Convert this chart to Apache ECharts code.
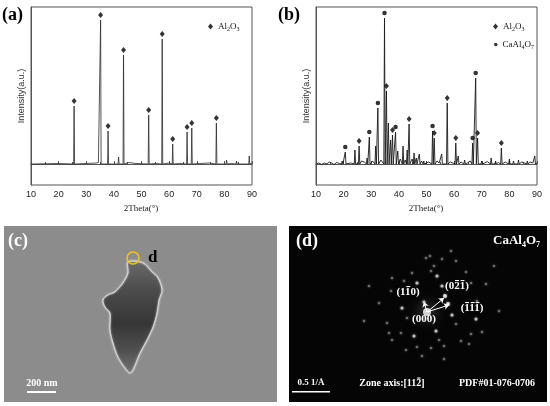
<!DOCTYPE html>
<html>
<head>
<meta charset="utf-8">
<script src="https://cdn.jsdelivr.net/npm/echarts@6/dist/echarts.min.js"></script>
<style>
  html, body { margin: 0; padding: 0; background: #fff; }
  #main { width: 550px; height: 406px; }
</style>
</head>
<body>
<div id="main"></div>
<script>
// XRD (a): peak positions 2theta, heights (a.u.), phase marker ('A' = Al2O3)
var thetaA = [25.6, 35.2, 37.9, 41.7, 43.5, 52.6, 57.5, 61.3, 66.5, 68.2, 77.1, 80.8, 84.4, 86.5, 89.0];
var heightA = [58, 144, 33, 7, 109, 49, 125, 20, 32, 36, 41, 4, 3, 2, 8];
var phaseA = ['A', 'A', 'A', '', 'A', 'A', 'A', 'A', 'A', 'A', 'A', '', '', '', ''];
var bgA = [[10, 0], [20, 0.5], [30, 0.5], [33.5, 1], [34.4, 1.5], [45.5, 1.5], [48, 0.5], [55, 0.5],
           [60, 1], [64, 0.5], [71, 0.5], [74.5, 1], [82.5, 0.5], [90, 1]];

// XRD (b): 'A' = Al2O3, 'C' = CaAl4O7
var thetaB = [14.8, 19.5, 20.6, 24.1, 25.6, 28.5, 29.3, 31.6, 32.4, 34.8, 35.5, 36.2, 37.0, 37.7, 38.8,
              39.6, 41.5, 43.0, 43.7, 45.5, 46.3, 47.4, 49.0, 52.2, 52.8, 55.5, 57.5, 60.6, 61.5, 63.8,
              66.7, 67.8, 68.5, 70.0, 73.4, 75.0, 77.1, 80.0, 81.5, 83.3, 86.5, 89.2];
var heightB = [2, 3, 12, 14, 18, 6, 27, 18, 56, 146, 73, 41, 24, 29, 32,
               13, 18, 14, 40, 11, 6, 10, 3, 33, 26, 10, 61, 21, 8, 4,
               21, 86, 26, 3, 6, 3, 16, 5, 3, 4, 3, 8];
var phaseB = ['', '', 'C', '', 'A', '', 'C', '', 'C', 'C', 'A', '', '', 'A', 'C',
              '', '', '', 'A', '', '', '', '', 'C', 'A', '', 'A', 'A', '', '',
              'C', 'C', 'A', '', '', '', 'A', '', '', '', '', ''];
var bgB = [[10, 0], [11, 1], [12, -0.5], [13, 1], [14, 0], [15.6, 1], [16.5, -0.5], [17.5, 1.5], [18.5, 0.5],
           [21.5, 2], [22.5, 1], [23.2, 2.5], [26.5, 3], [27.5, 2], [30.5, 3], [33.5, 4], [40.5, 5],
           [42.3, 4], [44.8, 5], [48.2, 3], [49.8, 1], [50.8, 2], [51.5, 1.5], [53.8, 3], [54.6, 1],
           [56.3, 2], [58.6, 2], [59.5, 1], [62.5, 2], [64.8, 1], [65.8, 3], [69.3, 2], [71, 1], [72, 2.5],
           [74.2, 1], [76, 1.5], [78.5, 2], [79.2, 1], [82.3, 1.5], [84.5, 2], [85.5, 1], [87.5, 2], [88.5, 1], [90, 1]];

var xTicks = [10, 20, 30, 40, 50, 60, 70, 80, 90];

// TEM (c): particle outline in image pixels
var particle = [[124, 36], [139, 37], [148, 46], [154, 52], [158, 64], [155, 74], [153, 87], [149, 101],
                [143, 114], [136, 127], [129, 144], [126, 147], [121, 142], [114, 131], [109, 117],
                [106, 104], [106, 87], [101, 81], [99, 74], [104, 69], [111, 66], [119, 57], [124, 47]];

// SAED (d): diffraction spots [x, y, brightness] in image pixels
var spots = [[113, 82, 2], [118, 92, 1], [123, 47, 1], [128, 57, 2], [141, 30, 1], [145, 40, 1], [148, 50, 2],
             [153, 60, 2], [156, 70, 3], [159, 78, 3], [163, 89, 2], [167, 98, 1], [162, 25, 1], [167, 35, 1],
             [197, 58, 1], [187, 93, 2], [147, 105, 2], [150, 114, 1], [125, 110, 2], [103, 52, 1], [90, 77, 1],
             [100, 107, 1], [128, 121, 1], [133, 130, 1], [155, 133, 1], [180, 118, 1], [177, 46, 1],
             [182, 57, 1], [188, 75, 1], [155, 120, 1], [142, 122, 1], [112, 107, 1], [103, 114, 1], [98, 97, 1],
             [102, 65, 1], [115, 55, 1], [142, 45, 1], [137, 32, 1], [153, 33, 1], [182, 108, 1], [193, 106, 1],
             [172, 115, 1], [117, 124, 1], [135, 76, 2], [80, 60, 1], [210, 85, 1], [205, 40, 1], [75, 95, 1]];
var center = [138, 86];
var arrowEnds = [[135, 76], [155, 72], [160, 79]];

function buildTrace(th, h, hw, bg) {
    var pts = [];
    for (var i = 0; i < th.length; i++) {
        pts.push([th[i] - hw, 0], [th[i], h[i]], [th[i] + hw, 0]);
    }
    bg.forEach(function (p) {
        var clear = th.every(function (t) { return Math.abs(t - p[0]) > hw + 0.15; });
        if (clear) pts.push(p);
    });
    pts.sort(function (a, b) { return a[0] - b[0]; });
    return pts;
}
function markers(th, h, ph, which) {
    var out = [];
    for (var i = 0; i < th.length; i++) {
        if (ph[i] === which) out.push([th[i], h[i]]);
    }
    return out;
}

// text with overbars on chosen characters (Miller indices)
var measureCtx = document.createElement('canvas').getContext('2d');
function barred(str, bars, cx, cy, font, size) {
    measureCtx.font = font;
    var w = measureCtx.measureText(str).width;
    var x0 = cx - w / 2;
    var els = [{ type: 'text', x: cx, y: cy, z: 10,
        style: { text: str, font: font, fill: '#fff', align: 'center', verticalAlign: 'middle' } }];
    bars.forEach(function (i) {
        var bx = x0 + measureCtx.measureText(str.slice(0, i)).width;
        var bw = measureCtx.measureText(str.charAt(i)).width;
        els.push({ type: 'rect', z: 10, shape: { x: bx + 0.8, y: cy - size * 0.5 - 0.5, width: bw - 1.6, height: 1.1 },
            style: { fill: '#fff' } });
    });
    return els;
}

var serif = 'Liberation Serif';
var sans = 'Liberation Sans';
var subRich = {
    n: { fontFamily: serif, fontSize: 9, color: '#111', lineHeight: 12 },
    s: { fontFamily: serif, fontSize: 6, color: '#111', lineHeight: 6, verticalAlign: 'bottom' }
};
function chem(name) {
    if (name === 'Al2O3') return '{n|Al}{s|2}{n|O}{s|3}';
    return '{n|CaAl}{s|4}{n|O}{s|7}';
}
function legendAt(left, top, name, icon, size) {
    return {
        left: left, top: top, itemWidth: size, itemHeight: size + 1, itemGap: 3,
        data: [{ name: name, icon: icon }],
        formatter: chem, textStyle: { rich: subRich }, selectedMode: false
    };
}

function xrdX(idx) {
    return {
        type: 'value', gridIndex: idx, min: 10, max: 90, interval: 10,
        axisLine: { show: true, lineStyle: { color: '#555', width: 1 } },
        axisTick: { show: true, inside: true, length: 3, lineStyle: { color: '#555' } },
        minorTick: { show: true, splitNumber: 2, length: 2, lineStyle: { color: '#555' } },
        axisLabel: { fontFamily: sans, fontSize: 9, color: '#222', margin: 5,
            formatter: function (v) { return xTicks.indexOf(v) >= 0 ? v : ''; } },
        splitLine: { show: false }
    };
}
function xrdY(idx) {
    return {
        type: 'value', gridIndex: idx, min: -21, max: 157,
        axisLine: { show: true, lineStyle: { color: '#555', width: 1 } },
        axisTick: { show: false }, axisLabel: { show: false }, splitLine: { show: false }
    };
}
function hidden(idx, max, inv) {
    return { type: 'value', gridIndex: idx, min: 0, max: max, inverse: !!inv, show: false };
}

var chart = echarts.init(document.getElementById('main'));

var labelFont = 'bold 11px "Liberation Serif"';
var graphics = [
    { type: 'text', left: 2, top: 6, style: { text: '(a)', font: 'bold 18px "Liberation Serif"', fill: '#000' } },
    { type: 'text', left: 278, top: 6, style: { text: '(b)', font: 'bold 18px "Liberation Serif"', fill: '#000' } },
    { type: 'text', x: 22, y: 96, rotation: Math.PI / 2,
      style: { text: 'Intensity(a.u.)', font: '9px "Liberation Sans"', fill: '#333', align: 'center', verticalAlign: 'middle' } },
    { type: 'text', x: 307, y: 96, rotation: Math.PI / 2,
      style: { text: 'Intensity(a.u.)', font: '9px "Liberation Sans"', fill: '#333', align: 'center', verticalAlign: 'middle' } },
    { type: 'text', x: 141, y: 209,
      style: { text: '2Theta(°)', font: '9px "Liberation Serif"', fill: '#222', align: 'center', verticalAlign: 'middle' } },
    { type: 'text', x: 426, y: 209,
      style: { text: '2Theta(°)', font: '9px "Liberation Serif"', fill: '#222', align: 'center', verticalAlign: 'middle' } },

    { type: 'text', x: 8, y: 241, z: 10,
      style: { text: '(c)', font: 'bold 18px "Liberation Serif"', fill: '#fff', verticalAlign: 'middle' } },
    { type: 'circle', shape: { cx: 133, cy: 258, r: 6 }, z: 10,
      style: { fill: 'none', stroke: '#f0c419', lineWidth: 1.6 } },
    { type: 'text', x: 148, y: 258, z: 10,
      style: { text: 'd', font: 'bold 17px "Liberation Serif"', fill: '#000', verticalAlign: 'middle' } },
    { type: 'text', x: 42, y: 383, z: 10,
      style: { text: '200 nm', font: 'bold 10px "Liberation Serif"', fill: '#fff', align: 'center', verticalAlign: 'middle' } },
    { type: 'rect', shape: { x: 27, y: 391, width: 29, height: 2 }, z: 10, style: { fill: '#fff' } },

    { type: 'text', x: 296, y: 241, z: 10,
      style: { text: '(d)', font: 'bold 18px "Liberation Serif"', fill: '#fff', verticalAlign: 'middle' } },
    { type: 'text', x: 540, y: 241, z: 10,
      style: {
          text: '{n|CaAl}{s|4}{n|O}{s|7}', align: 'right', verticalAlign: 'middle',
          rich: {
              n: { font: 'bold 13px "Liberation Serif"', fill: '#fff', lineHeight: 16 },
              s: { font: 'bold 8px "Liberation Serif"', fill: '#fff', lineHeight: 8, verticalAlign: 'bottom' }
          }
      } },
    { type: 'text', x: 424, y: 319, z: 10,
      style: { text: '(000)', font: labelFont, fill: '#fff', align: 'center', verticalAlign: 'middle' } },
    { type: 'text', x: 311, y: 383, z: 10,
      style: { text: '0.5 1/Å', font: 'bold 9px "Liberation Serif"', fill: '#fff', align: 'center', verticalAlign: 'middle' } },
    { type: 'rect', shape: { x: 292, y: 391, width: 38, height: 1.5 }, z: 10, style: { fill: '#fff' } },
    { type: 'text', x: 497, y: 383, z: 10,
      style: { text: 'PDF#01-076-0706', font: 'bold 10px "Liberation Serif"', fill: '#fff', align: 'center', verticalAlign: 'middle' } }
];
graphics = graphics
    .concat(barred('(110)', [2], 408, 292, labelFont, 11))
    .concat(barred('(021)', [2, 3], 457, 286, labelFont, 11))
    .concat(barred('(111)', [1, 2, 3], 472, 308, labelFont, 11))
    .concat(barred('Zone axis:[112]', [13], 392, 383, 'bold 10px "Liberation Serif"', 10));

var option = {
    animation: false,
    backgroundColor: '#fff',
    grid: [
        { left: 31, top: 7, width: 221, height: 178, show: true, borderColor: '#555', borderWidth: 1 },
        { left: 316, top: 7, width: 221, height: 178, show: true, borderColor: '#555', borderWidth: 1 },
        { left: 4, top: 226, width: 273, height: 176, show: true, backgroundColor: '#8c8c8c', borderWidth: 0 },
        { left: 289, top: 226, width: 258, height: 176, show: true, backgroundColor: '#050505', borderWidth: 0 }
    ],
    xAxis: [xrdX(0), xrdX(1), hidden(2, 273), hidden(3, 258)],
    yAxis: [xrdY(0), xrdY(1), hidden(2, 176, true), hidden(3, 176, true)],
    legend: [
        legendAt(203, 17, 'Al2O3', 'diamond', 5),
        legendAt(488, 17, 'Al2O3', 'diamond', 5),
        legendAt(489, 35, 'CaAl4O7', 'circle', 3.5)
    ],
    series: [
        {
            type: 'line', xAxisIndex: 0, yAxisIndex: 0, symbol: 'none',
            lineStyle: { color: '#2a2a2a', width: 0.8 },
            data: buildTrace(thetaA, heightA, 0.18, bgA)
        },
        {
            name: 'Al2O3', type: 'scatter', xAxisIndex: 0, yAxisIndex: 0, symbol: 'diamond',
            symbolSize: [5, 6], symbolOffset: [0, -5], itemStyle: { color: '#000' },
            data: markers(thetaA, heightA, phaseA, 'A')
        },
        {
            type: 'line', xAxisIndex: 1, yAxisIndex: 1, symbol: 'none',
            lineStyle: { color: '#1a1a1a', width: 0.9 },
            data: buildTrace(thetaB, heightB, 0.25, bgB)
        },
        {
            name: 'Al2O3', type: 'scatter', xAxisIndex: 1, yAxisIndex: 1, symbol: 'diamond',
            symbolSize: [5, 6], symbolOffset: [0, -5], itemStyle: { color: '#000' },
            data: markers(thetaB, heightB, phaseB, 'A')
        },
        {
            name: 'CaAl4O7', type: 'scatter', xAxisIndex: 1, yAxisIndex: 1, symbol: 'circle',
            symbolSize: 4.5, symbolOffset: [0, -5], itemStyle: { color: '#000' },
            data: markers(thetaB, heightB, phaseB, 'C')
        },
        {
            // TEM particle
            type: 'custom', xAxisIndex: 2, yAxisIndex: 2, data: [[0, 0]],
            renderItem: function (params, api) {
                var pts = particle.map(function (p) { return api.coord(p); });
                return {
                    type: 'polygon', shape: { points: pts, smooth: 0.3 },
                    style: {
                        fill: new echarts.graphic.LinearGradient(0, 0, 0, 1, [
                            { offset: 0, color: '#6a6a6a' }, { offset: 0.25, color: '#4d4d4d' },
                            { offset: 0.55, color: '#363636' }, { offset: 0.8, color: '#505050' },
                            { offset: 1, color: '#747474' }]),
                        stroke: '#d4d4d4', lineWidth: 1, shadowBlur: 2, shadowColor: '#eee'
                    }
                };
            }
        },
        {
            // SAED spots
            type: 'scatter', xAxisIndex: 3, yAxisIndex: 3, symbol: 'circle',
            symbolSize: function (v) { return 1.4 + v[2] * 0.8; },
            itemStyle: {
                color: function (p) { return ['#777', '#cfcfcf', '#f2f2f2'][p.data[2] - 1]; },
                shadowBlur: 2, shadowColor: '#fff'
            },
            data: spots
        },
        {
            type: 'scatter', xAxisIndex: 3, yAxisIndex: 3, symbol: 'circle', symbolSize: 8,
            itemStyle: { color: '#fff', shadowBlur: 14, shadowColor: '#fff' },
            data: [center]
        },
        {
            type: 'lines', coordinateSystem: 'cartesian2d', xAxisIndex: 3, yAxisIndex: 3,
            symbol: ['none', 'arrow'], symbolSize: 5,
            lineStyle: { color: '#fff', width: 1, opacity: 1 },
            data: arrowEnds.map(function (e) { return { coords: [center, e] }; })
        }
    ],
    graphic: graphics
};

chart.setOption(option);
window.onresize = function () { chart.resize(); };
</script>
</body>
</html>
